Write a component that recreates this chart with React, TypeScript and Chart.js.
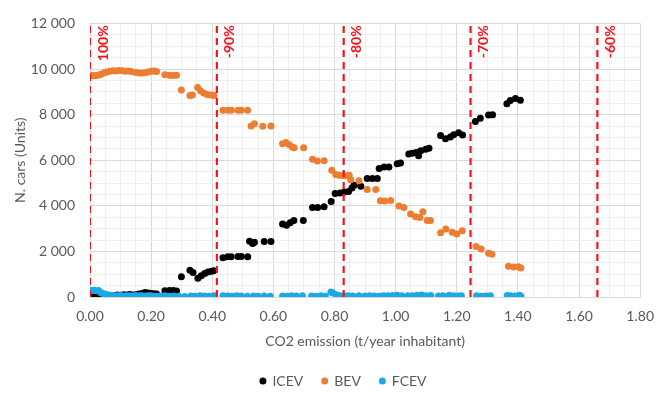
import React, { useEffect, useRef } from 'react';
import { Chart, registerables } from 'chart.js';

Chart.register(...registerables);

// ---------- data ----------
const ICEV_X = [0.005, 0.012, 0.02, 0.03, 0.04, 0.05, 0.06, 0.07, 0.08, 0.09, 0.1, 0.11, 0.12, 0.13, 0.14, 0.15, 0.16, 0.17, 0.18, 0.19, 0.2, 0.21, 0.218, 0.245, 0.26, 0.272, 0.283, 0.299, 0.327, 0.337, 0.353, 0.364, 0.375, 0.386, 0.397, 0.405, 0.435, 0.451, 0.462, 0.484, 0.495, 0.516, 0.522, 0.532, 0.538, 0.57, 0.592, 0.63, 0.643, 0.655, 0.667, 0.698, 0.728, 0.745, 0.766, 0.789, 0.802, 0.818, 0.832, 0.846, 0.857, 0.864, 0.886, 0.907, 0.924, 0.94, 0.946, 0.962, 0.978, 1.005, 1.016, 1.043, 1.054, 1.067, 1.075, 1.082, 1.098, 1.109, 1.147, 1.163, 1.179, 1.19, 1.206, 1.219, 1.261, 1.277, 1.304, 1.317, 1.364, 1.375, 1.392, 1.408];
const ICEV_Y = [30, 0, 10, 40, 20, 60, 80, 60, 70, 90, 80, 100, 90, 110, 90, 100, 130, 150, 200, 180, 150, 140, 130, 270, 290, 280, 260, 890, 1170, 1070, 820, 930, 1030, 1100, 1130, 1150, 1720, 1760, 1760, 1780, 1780, 1760, 2450, 2350, 2400, 2430, 2430, 3200, 3150, 3260, 3360, 3350, 3920, 3930, 3960, 4190, 4540, 4560, 4600, 4630, 4780, 4900, 4860, 5200, 5200, 5200, 5640, 5700, 5700, 5840, 5880, 6270, 6300, 6340, 6200, 6410, 6480, 6520, 7080, 6940, 7020, 7120, 7200, 7100, 7700, 7840, 7980, 7990, 8480, 8620, 8710, 8630];

const BEV_X = [0.005, 0.012, 0.02, 0.028, 0.035, 0.045, 0.055, 0.065, 0.075, 0.085, 0.095, 0.105, 0.115, 0.125, 0.135, 0.15, 0.16, 0.17, 0.18, 0.19, 0.2, 0.21, 0.218, 0.245, 0.26, 0.272, 0.283, 0.299, 0.327, 0.335, 0.352, 0.362, 0.372, 0.383, 0.395, 0.405, 0.435, 0.451, 0.462, 0.484, 0.495, 0.516, 0.527, 0.538, 0.565, 0.592, 0.63, 0.641, 0.652, 0.662, 0.668, 0.699, 0.728, 0.744, 0.766, 0.791, 0.804, 0.815, 0.826, 0.836, 0.848, 0.853, 0.88, 0.907, 0.935, 0.95, 0.965, 0.984, 1.011, 1.027, 1.049, 1.065, 1.079, 1.089, 1.103, 1.114, 1.147, 1.164, 1.185, 1.2, 1.218, 1.263, 1.28, 1.304, 1.315, 1.369, 1.386, 1.402, 1.41];
const BEV_Y = [9720, 9700, 9710, 9740, 9760, 9830, 9870, 9900, 9920, 9910, 9930, 9920, 9900, 9910, 9890, 9850, 9830, 9820, 9840, 9870, 9900, 9910, 9890, 9750, 9730, 9720, 9730, 9080, 8840, 8860, 9190, 9030, 8950, 8880, 8860, 8840, 8190, 8190, 8190, 8190, 8190, 8190, 7500, 7600, 7490, 7500, 6720, 6780, 6680, 6580, 6550, 6550, 6040, 5960, 5980, 5560, 5370, 5340, 5330, 5320, 5340, 5140, 5100, 4720, 4720, 4220, 4210, 4230, 3990, 3920, 3640, 3520, 3490, 3740, 3360, 3350, 2820, 2980, 2840, 2760, 2910, 2210, 2100, 1920, 1880, 1350, 1320, 1330, 1270];

const FCEV_X = [0.005, 0.012, 0.02, 0.028, 0.035, 0.042, 0.05, 0.06, 0.07, 0.08, 0.09, 0.1, 0.11, 0.12, 0.13, 0.14, 0.15, 0.16, 0.17, 0.18, 0.19, 0.2, 0.215, 0.23, 0.245, 0.26, 0.275, 0.29, 0.31, 0.33, 0.345, 0.36, 0.375, 0.39, 0.405, 0.435, 0.45, 0.465, 0.48, 0.495, 0.515, 0.535, 0.55, 0.57, 0.59, 0.63, 0.645, 0.66, 0.675, 0.695, 0.725, 0.74, 0.755, 0.77, 0.788, 0.795, 0.805, 0.815, 0.83, 0.845, 0.86, 0.88, 0.9, 0.915, 0.93, 0.945, 0.96, 0.975, 0.99, 1.005, 1.02, 1.04, 1.055, 1.07, 1.085, 1.1, 1.115, 1.14, 1.155, 1.175, 1.19, 1.205, 1.215, 1.265, 1.28, 1.295, 1.31, 1.365, 1.375, 1.39, 1.405, 1.41];
const FCEV_Y = [280, 300, 270, 290, 200, 150, 120, 90, 80, 60, 50, 70, 40, 60, 50, 40, 70, 50, 60, 40, 60, 50, 30, 40, 50, 30, 40, 30, 20, 40, 30, 50, 40, 30, 50, 50, 40, 30, 50, 40, 30, 40, 30, 40, 30, 40, 30, 50, 40, 60, 40, 30, 50, 30, 220, 180, 100, 70, 60, 50, 40, 50, 40, 60, 40, 30, 60, 50, 70, 80, 60, 60, 50, 80, 90, 60, 70, 40, 60, 80, 50, 40, 50, 50, 30, 40, 60, 70, 50, 40, 80, 30];

const SERIES_NAMES = ['ICEV', 'BEV', 'FCEV'];
const SERIES_COLORS = ['#000000', '#ED7D31', '#1AA9E6'];

const REF_X = [0, 0.415, 0.83, 1.245, 1.66];
const REF_LABELS = ['100%', '-90%', '-80%', '-70%', '-60%'];

const X_MIN = 0, X_MAX = 1.8, X_MAJOR = 0.2, X_MINOR = 0.05;
const Y_MIN = 0, Y_MAX = 12000, Y_MAJOR = 2000, Y_MINOR = 500;

const X_TITLE = 'CO2 emission (t/year inhabitant)';
const Y_TITLE = 'N. cars (Units)';

const FONT = 'Lato, "Open Sans", sans-serif';
const TEXT = '#595959';
const RED = '#F5121B';

const isMajor = (v: number, step: number) => Math.abs(v / step - Math.round(v / step)) < 1e-6;
const fmtY = (v: number) => String(Math.round(v)).replace(/\B(?=(\d{3})+(?!\d))/g, ' ');

export default function App() {
  const ref = useRef<HTMLCanvasElement>(null);

  useEffect(() => {
    if (!ref.current) return;
    const toPts = (xs: number[], ys: number[]) => xs.map((x, i) => ({ x, y: ys[i] }));
    const seriesData = [toPts(ICEV_X, ICEV_Y), toPts(BEV_X, BEV_Y), toPts(FCEV_X, FCEV_Y)];

    const pointSets = seriesData.map((d, i) => ({
      label: SERIES_NAMES[i],
      data: d,
      backgroundColor: SERIES_COLORS[i],
      borderColor: SERIES_COLORS[i],
      borderWidth: 0,
      pointRadius: 3.5,
      order: 3 - i,
    }));

    const refSets = REF_X.map((x, i) => ({
      label: REF_LABELS[i],
      data: [{ x, y: Y_MIN }, { x, y: Y_MAX }],
      showLine: true,
      borderColor: RED,
      borderWidth: 2.2,
      borderDash: [7, 5],
      pointRadius: 0,
      order: 0,
    }));

    const overlay = {
      id: 'overlay',
      afterDraw(chart: any) {
        const ctx = chart.ctx;
        const xs = chart.scales.x;
        const area = chart.chartArea;
        ctx.save();
        // reference labels
        ctx.fillStyle = RED;
        ctx.font = `bold 14px ${FONT}`;
        ctx.textAlign = 'right';
        ctx.textBaseline = 'middle';
        REF_X.forEach((x, i) => {
          const px = xs.getPixelForValue(x);
          ctx.save();
          ctx.translate(px + 13, area.top + 2);
          ctx.rotate(-Math.PI / 2);
          ctx.fillText(REF_LABELS[i], 0, 0);
          ctx.restore();
        });
        // legend
        ctx.font = `14px ${FONT}`;
        ctx.textAlign = 'left';
        const r = 3.5, gap = 6, spacing = 18;
        const widths = SERIES_NAMES.map((n) => r * 2 + gap + ctx.measureText(n).width);
        const total = widths.reduce((a, b) => a + b, 0) + spacing * (SERIES_NAMES.length - 1);
        let cx = 343 - total / 2;
        const cy = 381;
        SERIES_NAMES.forEach((n, i) => {
          ctx.fillStyle = SERIES_COLORS[i];
          ctx.beginPath();
          ctx.arc(cx + r, cy, r, 0, Math.PI * 2);
          ctx.fill();
          ctx.fillStyle = TEXT;
          ctx.fillText(n, cx + r * 2 + gap, cy);
          cx += widths[i] + spacing;
        });
        ctx.restore();
      },
    };

    const chart = new Chart(ref.current, {
      type: 'scatter',
      data: { datasets: [...pointSets, ...refSets] as any },
      options: {
        responsive: false,
        animation: false,
        layout: { padding: { left: 0, right: 23, top: 16, bottom: 0 } },
        plugins: { legend: { display: false }, tooltip: { enabled: false } },
        scales: {
          x: {
            type: 'linear',
            min: X_MIN,
            max: X_MAX,
            afterFit: (s: any) => { s.height = 96; },
            ticks: {
              stepSize: X_MINOR,
              autoSkip: false,
              maxRotation: 0,
              padding: 11,
              color: TEXT,
              font: { family: FONT, size: 14 },
              callback: (v: any) => (isMajor(Number(v), X_MAJOR) ? Number(v).toFixed(2) : ''),
            },
            grid: {
              drawTicks: false,
              color: (c: any) => (isMajor(c.tick.value, X_MAJOR) ? '#D9D9D9' : '#EFEFEF'),
              lineWidth: 1,
            },
            border: { color: '#D9D9D9' },
            title: {
              display: true,
              text: X_TITLE,
              color: TEXT,
              font: { family: FONT, size: 14 },
              padding: { top: 0, bottom: 43 },
            },
          },
          y: {
            type: 'linear',
            min: Y_MIN,
            max: Y_MAX,
            afterFit: (s: any) => { s.width = 90; },
            ticks: {
              stepSize: Y_MINOR,
              autoSkip: false,
              padding: 15,
              color: TEXT,
              font: { family: FONT, size: 14 },
              callback: (v: any) => (isMajor(Number(v), Y_MAJOR) ? fmtY(Number(v)) : ''),
            },
            grid: {
              drawTicks: false,
              color: (c: any) => (isMajor(c.tick.value, Y_MAJOR) ? '#D9D9D9' : '#EFEFEF'),
              lineWidth: 1,
            },
            border: { color: '#D9D9D9' },
            title: {
              display: true,
              text: Y_TITLE,
              color: TEXT,
              font: { family: FONT, size: 14 },
              padding: { top: 12, bottom: 0 },
            },
          },
        },
      },
      plugins: [overlay],
    });
    return () => chart.destroy();
  }, []);

  return (
    <div style={{ position: 'fixed', left: 0, top: 0, width: 665, height: 393, background: '#ffffff' }}>
      <canvas ref={ref} width={665} height={393} style={{ display: 'block' }} />
    </div>
  );
}
